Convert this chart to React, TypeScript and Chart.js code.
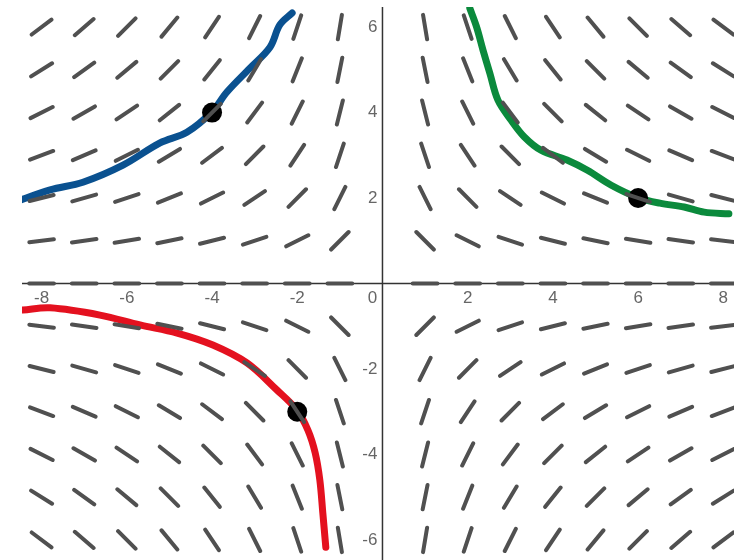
import React, { useEffect, useRef } from "react";
import { Chart, registerables } from "chart.js";

Chart.register(...registerables);

// slope-field grid (dy/dx = -y/x)
const FIELD_X = [-8, -7, -6, -5, -4, -3, -2, -1, 1, 2, 3, 4, 5, 6, 7, 8];
const FIELD_Y = [-6, -5, -4, -3, -2, -1, 0, 1, 2, 3, 4, 5, 6];
const slopeAt = (x: number, y: number) => -y / x;

// hand-drawn solution curves
const BLUE_X = [-8.7, -7.8, -7.03, -6.09, -5.22, -4.59, -4.0, -3.65, -3.11, -2.64, -2.41, -2.12];
const BLUE_Y = [1.88, 2.19, 2.37, 2.77, 3.29, 3.54, 4.02, 4.48, 5.04, 5.53, 6.05, 6.33];
const GREEN_X = [2.05, 2.21, 2.36, 2.52, 2.71, 3.02, 3.33, 3.72, 4.33, 4.81, 5.37, 5.97, 6.51, 7.08, 7.55, 8.13];
const GREEN_Y = [6.44, 6.0, 5.46, 4.92, 4.29, 3.82, 3.43, 3.12, 2.89, 2.65, 2.3, 2.02, 1.88, 1.79, 1.67, 1.63];
const RED_X = [-8.44, -7.8, -6.63, -5.69, -4.82, -3.98, -3.18, -2.48, -2.01, -1.75, -1.58, -1.47, -1.4, -1.33];
const RED_Y = [-0.62, -0.57, -0.74, -0.97, -1.16, -1.44, -1.86, -2.49, -2.96, -3.43, -3.96, -4.6, -5.37, -6.17];

// marked points
const DOT_X = [-4, 6, -2];
const DOT_Y = [4, 2, -3];

// tick labels
const X_TICKS = [-8, -6, -4, -2, 2, 4, 6, 8];
const Y_TICKS = [-6, -4, -2, 2, 4, 6];
const ORIGIN_LABEL = "0";

const SEG_HALF = 0.29;
const FONT_FAMILY = "'Liberation Sans', Arial, sans-serif";
const FONT_SIZE = 17;
const TICK_COLOR = "#666";

function zip(xs: number[], ys: number[]) {
  return xs.map((x, i) => ({ x, y: ys[i] }));
}

function buildField() {
  const pts: { x: number; y: number | null }[] = [];
  for (const x of FIELD_X) {
    for (const y of FIELD_Y) {
      const m = slopeAt(x, y);
      const dx = SEG_HALF / Math.sqrt(1 + m * m);
      const dy = m * dx;
      pts.push({ x: x - dx, y: y - dy });
      pts.push({ x: x + dx, y: y + dy });
      pts.push({ x, y: null });
    }
  }
  return pts;
}

// axes through the origin with Desmos-style labels
const centeredAxes = {
  id: "centeredAxes",
  beforeDatasetsDraw(chart: any) {
    const { ctx, scales, chartArea } = chart;
    const ox = scales.x.getPixelForValue(0);
    const oy = scales.y.getPixelForValue(0);
    ctx.save();
    ctx.strokeStyle = "#333";
    ctx.lineWidth = 1.5;
    ctx.beginPath();
    ctx.moveTo(chartArea.left, oy);
    ctx.lineTo(chartArea.right, oy);
    ctx.moveTo(ox, chartArea.top);
    ctx.lineTo(ox, chartArea.bottom);
    ctx.stroke();

    ctx.font = `${FONT_SIZE}px ${FONT_FAMILY}`;
    ctx.fillStyle = TICK_COLOR;
    ctx.textBaseline = "middle";
    ctx.textAlign = "center";
    for (const v of X_TICKS) {
      ctx.fillText(String(v), scales.x.getPixelForValue(v), oy + 15);
    }
    ctx.textAlign = "right";
    for (const v of Y_TICKS) {
      ctx.fillText(String(v), ox - 5, scales.y.getPixelForValue(v));
    }
    ctx.textAlign = "center";
    ctx.fillText(ORIGIN_LABEL, ox - 10, oy + 15);
    ctx.restore();
  },
};

export default function App() {
  const ref = useRef<HTMLCanvasElement>(null);

  useEffect(() => {
    if (!ref.current) return;
    const curve = (xs: number[], ys: number[], color: string) => ({
      type: "scatter" as const,
      data: zip(xs, ys),
      showLine: true,
      borderColor: color,
      backgroundColor: color,
      borderWidth: 7,
      borderCapStyle: "round" as const,
      borderJoinStyle: "round" as const,
      tension: 0.35,
      pointRadius: 0,
      pointHoverRadius: 0,
    });

    const chart = new Chart(ref.current, {
      type: "scatter",
      data: {
        datasets: [
          {
            data: buildField() as any,
            showLine: true,
            spanGaps: false,
            borderColor: "#505050",
            borderWidth: 4,
            borderCapStyle: "round",
            pointRadius: 0,
            pointHoverRadius: 0,
          } as any,
          {
            data: zip(DOT_X, DOT_Y),
            pointRadius: 10,
            pointBackgroundColor: "#000",
            pointBorderColor: "#000",
            pointBorderWidth: 0,
            showLine: false,
          } as any,
          curve(BLUE_X, BLUE_Y, "#0a5190"),
          curve(GREEN_X, GREEN_Y, "#0b8a3c"),
          curve(RED_X, RED_Y, "#e4111f"),
        ],
      },
      options: {
        responsive: false,
        animation: false,
        events: [],
        layout: { autoPadding: false, padding: { left: 22, top: 7, right: 0, bottom: 0 } },
        plugins: { legend: { display: false }, tooltip: { enabled: false } },
        scales: {
          x: {
            type: "linear",
            min: -8.46,
            max: 8.25,
            display: false,
          },
          y: {
            type: "linear",
            min: -6.47,
            max: 6.47,
            display: false,
          },
        },
      },
      plugins: [centeredAxes],
    });
    return () => chart.destroy();
  }, []);

  return (
    <div style={{ position: "fixed", left: 0, top: 0, width: 734, height: 560, background: "#fff" }}>
      <canvas ref={ref} width={734} height={560} style={{ display: "block" }} />
    </div>
  );
}
